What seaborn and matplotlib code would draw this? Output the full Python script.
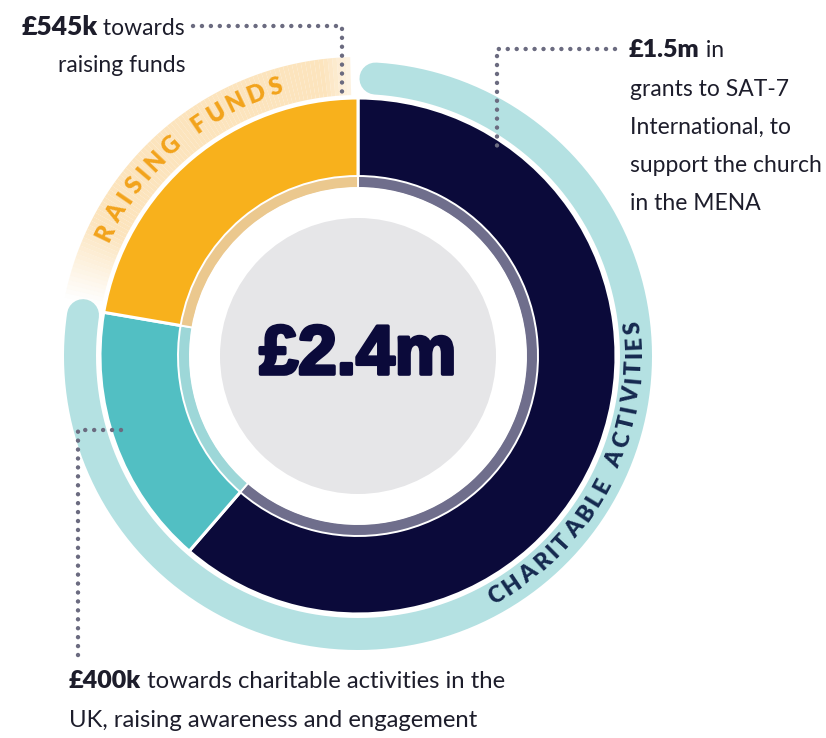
import matplotlib.pyplot as plt
import seaborn as sns
import numpy as np
from matplotlib.patches import Wedge, Circle
from matplotlib.textpath import TextPath
from matplotlib.font_manager import FontProperties
import matplotlib.patheffects as pe

# ---- data ----
categories = ["Grants to SAT-7 International", "Charitable activities in the UK", "Raising funds"]
amounts_k = [1500, 400, 545]
total_label = "£2.4m"
group_names = ["CHARITABLE ACTIVITIES", "RAISING FUNDS"]
group_members = [[0, 1], [2]]
callout_bold = ["£1.5m", "£400k", "£545k"]
callout_rest = [
    [" in", "grants to SAT-7", "International, to", "support the church", "in the MENA"],
    [" towards charitable activities in the", "UK, raising awareness and engagement"],
    [" towards", "raising funds"],
]

# ---- style ----
sns.set_theme(style="white")
plt.rcParams['font.family'] = ['Lato', 'DejaVu Sans']

seg_colors = sns.color_palette(["#0b0a3a", "#52bfc3", "#f8b11c"])
band_colors = ["#6f6e8c", "#9dd7d8", "#ebc88e"]
group_colors = ["#b4e1e2", "#fce4bd"]
group_text_colors = ["#15294f", "#f2a31b"]
dot_color = "#6b6b80"
text_color = "#1d1d2b"

W, H = 826, 738
CX, CY = 358, H - 356
R_OUT, R_IN = 258, 168
R_BAND = 180
R_GREY = 138
R_GROUP = 280
GROUP_W = 32


def Y(y):
    return H - y


def arc_xy(a0, a1, r, n=300):
    # angles measured clockwise from 12 o'clock
    a = np.linspace(a0, a1, n)
    th = np.radians(90 - a)
    return CX + r * np.cos(th), CY + r * np.sin(th)


def curved_text(ax, text, a_start, a_end, r, color, outward, size):
    fp = FontProperties(family='Lato', weight='heavy', size=size)
    widths = []
    for ch in text:
        if ch == " ":
            widths.append(0.35 * size)
        else:
            widths.append(TextPath((0, 0), ch, size=size, prop=fp).get_extents().width)
    widths = np.array(widths)
    gaps = (widths[:-1] + widths[1:]) / 2
    arc_len = np.radians(abs(a_end - a_start)) * r * 72 / 100  # px -> pt
    track = (arc_len - gaps.sum()) / len(gaps)
    steps = np.concatenate([[0], np.cumsum(gaps + track)]) / arc_len
    angles = a_start + (a_end - a_start) * steps
    for ch, a in zip(text, angles):
        th = np.radians(90 - a)
        x, y = CX + r * np.cos(th), CY + r * np.sin(th)
        rot = -a if outward else 180 - a
        ax.text(x, y, ch, rotation=rot, ha='center', va='center', rotation_mode='anchor',
                fontsize=size, fontweight='heavy', color=color, family='Lato', zorder=6)


fig = plt.figure(figsize=(W / 100, H / 100), dpi=100)
ax = fig.add_axes([0, 0, 1, 1])

# group arcs behind the donut
total = sum(amounts_k)
cum = np.concatenate([[0], np.cumsum(amounts_k)]) / total * 360
g_start = [cum[m[0]] for m in group_members]
g_end = [cum[m[-1] + 1] for m in group_members]

# charitable activities: solid band with round caps
x, y = arc_xy(g_start[0] + 3.6, g_end[0] - 1.3, R_GROUP - 2)
ax.plot(x, y, color=group_colors[0], lw=GROUP_W * 0.72, solid_capstyle='round', zorder=1)

# raising funds: band fading out at the lower end, softly at the top
a_edges = np.linspace(g_start[1] + 1.5, g_end[1] - 1.5, 90)
for a0, a1 in zip(a_edges[:-1], a_edges[1:]):
    t = ((a0 + a1) / 2 - a_edges[0]) / (a_edges[-1] - a_edges[0])
    alpha = min(1.0, t / 0.2) * min(1.0, (1 - t) / 0.12 + 0.4)
    ax.add_patch(Wedge((CX, CY), R_GROUP + 19, 90 - a1, 90 - a0, width=38,
                       facecolor=group_colors[1], edgecolor='none', alpha=alpha, zorder=1))

# main donut
ax.pie(amounts_k, colors=seg_colors, startangle=90, counterclock=False,
       radius=R_OUT, center=(CX, CY), frame=True,
       wedgeprops=dict(width=R_OUT - R_IN, edgecolor='white', linewidth=2.2))
# lighter inner band of each slice
ax.pie(amounts_k, colors=band_colors, startangle=90, counterclock=False,
       radius=R_BAND, center=(CX, CY), frame=True,
       wedgeprops=dict(width=R_BAND - R_IN, edgecolor='white', linewidth=1.4))
ax.add_patch(Circle((CX, CY), R_IN + 0.5, facecolor='white', edgecolor='none', zorder=2))
ax.add_patch(Circle((CX, CY), R_GREY, facecolor='#e6e6e8', edgecolor='none', zorder=3))

ax.text(CX, Y(356), total_label, ha='center', va='center', fontsize=50, fontweight='bold',
        family='Liberation Sans', color=seg_colors[0], zorder=4,
        path_effects=[pe.withStroke(linewidth=2.6, foreground=seg_colors[0])])

# curved group labels
curved_text(ax, group_names[0], 150, 84, R_GROUP - 3, group_text_colors[0], outward=False, size=16.5)
curved_text(ax, group_names[1], 296, 343, R_GROUP + 1, group_text_colors[1], outward=True, size=17)

# dotted leader lines
leaders = [
    [(615, 49), (497, 49), (497, 147)],
    [(121, 430), (78, 430), (78, 662)],
    [(193, 26), (342, 26), (342, 93)],
]
for pts in leaders:
    xs = [p[0] for p in pts]
    ys = [Y(p[1]) for p in pts]
    ax.plot(xs, ys, color=dot_color, lw=3.2, linestyle=(0, (0.01, 2.0)),
            dash_capstyle='round', zorder=5)

# callouts
fs = 16.5
fb = 18
# right: £1.5m
rest = callout_rest[0]
t = ax.text(629, Y(57), callout_bold[0], ha='left', va='baseline', fontsize=fb,
            fontweight='heavy', color=text_color)
ax.annotate(rest[0], xy=(1, 0), xycoords=t, ha='left', va='bottom', fontsize=fs, color=text_color)
for i, line in enumerate(rest[1:]):
    ax.text(630, Y(95.5 + 38 * i), line, ha='left', va='baseline', fontsize=fs, color=text_color)

# bottom: £400k
rest = callout_rest[1]
fs2 = 17.2
t = ax.text(69, Y(688), callout_bold[1], ha='left', va='baseline', fontsize=fb,
            fontweight='heavy', color=text_color)
ax.annotate(rest[0], xy=(1, 0), xycoords=t, ha='left', va='bottom', fontsize=fs2, color=text_color)
ax.text(69, Y(727), rest[1], ha='left', va='baseline', fontsize=fs2, color=text_color)

# top left: £545k
rest = callout_rest[2]
t = ax.text(185, Y(35), rest[0], ha='right', va='baseline', fontsize=fs, color=text_color)
ax.annotate(callout_bold[2], xy=(0, 0), xycoords=t, ha='right', va='bottom', fontsize=fb + 1,
            fontweight='heavy', color=text_color)
ax.text(185, Y(72), rest[1], ha='right', va='baseline', fontsize=fs, color=text_color)

ax.set_xlim(0, W)
ax.set_ylim(0, H)
ax.set_aspect('equal')
ax.set_axis_off()

fig.savefig("out.png", dpi=100)
